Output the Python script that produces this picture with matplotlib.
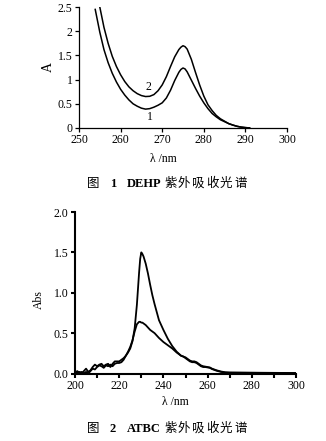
import matplotlib
matplotlib.use("Agg")
import matplotlib.pyplot as plt
import numpy as np

plt.rcParams['font.family'] = ['Liberation Serif', 'Noto Sans CJK SC']
plt.rcParams['font.size'] = 8

# DEHP spectra (Fig. 1)
dehp_wl_1 = [253.9, 255, 256, 257, 258, 259, 260, 261, 262, 263, 264, 265, 266, 267,
             268, 269, 270, 271, 272, 273, 274, 274.5, 275, 275.5, 276, 277, 278, 279,
             280, 281, 282, 283, 284, 285, 286, 287, 288, 289, 290, 291]
dehp_abs_1 = [2.45, 1.98, 1.62, 1.35, 1.13, 0.95, 0.80, 0.68, 0.58, 0.50, 0.45, 0.41, 0.39, 0.40,
              0.43, 0.47, 0.52, 0.62, 0.78, 0.98, 1.15, 1.21, 1.24, 1.22, 1.16, 0.99, 0.82, 0.66,
              0.52, 0.40, 0.30, 0.23, 0.17, 0.13, 0.09, 0.06, 0.035, 0.018, 0.008, 0.002]
dehp_wl_2 = [255, 256, 257, 258, 259, 260, 261, 262, 263, 264, 265, 266, 267, 268, 269,
             270, 271, 272, 273, 274, 274.5, 275, 275.5, 276, 277, 278, 279, 280, 281, 282,
             283, 284, 285, 286, 287, 288, 289, 290, 291]
dehp_abs_2 = [2.5, 2.08, 1.75, 1.48, 1.27, 1.10, 0.96, 0.85, 0.77, 0.71, 0.67, 0.65, 0.655, 0.69, 0.77,
              0.89, 1.06, 1.27, 1.47, 1.62, 1.67, 1.70, 1.68, 1.63, 1.42, 1.15, 0.89, 0.66, 0.48, 0.36,
              0.26, 0.19, 0.14, 0.09, 0.06, 0.035, 0.018, 0.008, 0.002]

# ATBC spectra (Fig. 2)
atbc_wl = [200, 201, 202, 203, 204, 205, 206, 207, 208, 209, 210, 211, 212, 213, 214, 215,
           216, 217, 218, 219, 220, 221, 222, 223, 224, 225, 226, 227, 228, 229, 229.5, 230,
           230.5, 231, 232, 233, 234, 235, 236, 238, 240, 242, 244, 246, 248, 249, 250, 251,
           252, 253, 254, 255, 256, 257, 258, 259, 260, 261, 262, 264, 266, 268, 270, 275,
           280, 290, 300]
atbc_abs_hi = [0.03, 0.01, 0.02, 0.0, 0.03, 0.06, 0.02, 0.04, 0.08, 0.11, 0.09, 0.11, 0.12, 0.09, 0.11, 0.12,
               0.08, 0.12, 0.15, 0.15, 0.15, 0.17, 0.19, 0.22, 0.26, 0.31, 0.40, 0.56, 0.85, 1.25, 1.42, 1.50,
               1.48, 1.45, 1.36, 1.24, 1.10, 0.97, 0.86, 0.66, 0.54, 0.43, 0.34, 0.27, 0.22, 0.21, 0.19, 0.17,
               0.15, 0.14, 0.14, 0.13, 0.11, 0.09, 0.08, 0.08, 0.075, 0.07, 0.055, 0.035, 0.02, 0.012, 0.01, 0.01,
               0.008, 0.006, 0.004]
atbc_abs_lo = [0.0, 0.03, 0.01, 0.02, 0.0, 0.02, 0.0, 0.03, 0.06, 0.05, 0.08, 0.10, 0.09, 0.07, 0.10, 0.09,
               0.11, 0.09, 0.12, 0.13, 0.13, 0.14, 0.17, 0.22, 0.27, 0.33, 0.41, 0.52, 0.61, 0.64, 0.64, 0.63,
               0.63, 0.62, 0.60, 0.57, 0.54, 0.52, 0.50, 0.44, 0.39, 0.35, 0.31, 0.26, 0.22, 0.21, 0.20, 0.18,
               0.16, 0.15, 0.15, 0.14, 0.12, 0.10, 0.09, 0.085, 0.08, 0.075, 0.06, 0.04, 0.025, 0.015, 0.012, 0.01,
               0.01, 0.008, 0.006]

W, H = 326, 441
fig = plt.figure(figsize=(W / 100, H / 100), dpi=100)


def px_axes(left, top, right, bottom):
    return fig.add_axes([left / W, 1 - bottom / H, (right - left) / W, (bottom - top) / H])


def style(ax, lw):
    for s in ('top', 'right'):
        ax.spines[s].set_visible(False)
    for s in ('left', 'bottom'):
        ax.spines[s].set_linewidth(lw)
    ax.tick_params(direction='out', length=3, width=lw, pad=1.5, labelsize=8.5)


def caption(y, num, name):
    fs = 9
    fig.text(87 / W, 1 - y / H, "图", fontsize=fs, va='center', ha='left')
    fig.text(110 / W, 1 - y / H, num, fontsize=fs, va='center', ha='left', fontweight='bold')
    fig.text(127 / W, 1 - y / H, name, fontsize=fs, va='center', ha='left', fontweight='bold')
    for i, ch in enumerate("紫外吸收光谱"):
        fig.text((164 + 14 * i) / W, 1 - y / H, ch, fontsize=fs, va='center', ha='left')


# Fig. 1
ax1 = px_axes(79, 7, 287, 128)
ax1.plot(dehp_wl_1, dehp_abs_1, color='black', lw=1.1)
ax1.plot(dehp_wl_2, dehp_abs_2, color='black', lw=1.1)
ax1.set_xlim(250, 300)
ax1.set_ylim(0, 2.5)
ax1.set_xticks(np.arange(250, 301, 10))
ax1.set_yticks([0, 0.5, 1, 1.5, 2, 2.5])
ax1.set_yticklabels(['0', '0.5', '1', '1.5', '2', '2.5'])
style(ax1, 0.9)
ax1.text(266.6, 0.85, "2", fontsize=8.5, ha='center', va='center')
ax1.text(267.1, 0.23, "1", fontsize=8.5, ha='center', va='center')
ax1.text(-0.149, 0.5, "A", transform=ax1.transAxes, rotation=90, fontsize=10, ha='center', va='center')
ax1.text(0.404, -0.256, "λ /nm", transform=ax1.transAxes, fontsize=8.5, ha='center', va='center')
caption(184, "1", "DEHP")

# Fig. 2
ax2 = px_axes(75, 212, 296, 373.5)
ax2.plot(atbc_wl, atbc_abs_hi, color='black', lw=1.3)
ax2.plot(atbc_wl, atbc_abs_lo, color='black', lw=1.3)
ax2.set_xlim(200, 300)
ax2.set_ylim(0, 2.0)
ax2.set_xticks(np.arange(200, 301, 20))
ax2.set_xticks(np.arange(210, 300, 20), minor=True)
ax2.set_yticks([0, 0.5, 1.0, 1.5, 2.0])
ax2.set_yticklabels(['0.0', '0.5', '1.0', '1.5', '2.0'])
style(ax2, 1.5)
ax2.tick_params(which='minor', direction='out', length=3, width=1.5)
ax2.text(-0.163, 0.46, "Abs", transform=ax2.transAxes, rotation=90, fontsize=8.5, ha='center', va='center')
ax2.text(0.452, -0.176, "λ /nm", transform=ax2.transAxes, fontsize=8.5, ha='center', va='center')
caption(429, "2", "ATBC")

fig.savefig("out.png", dpi=100)
